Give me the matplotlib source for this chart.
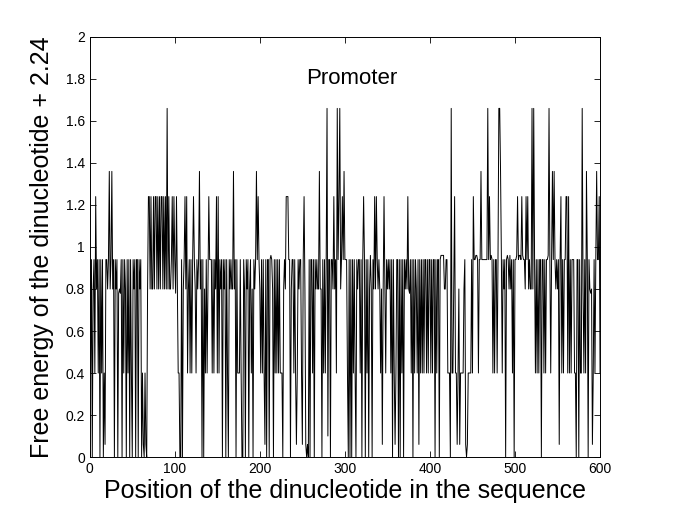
import numpy as np
import matplotlib.pyplot as plt

# free energy (+2.24), position 0..600, in blocks of 50
block1 = [0.94, 0.4, 0.94, 0, 0.8, 0.94, 0.4, 1.24, 0.8, 0.94,
          0.4, 0.94, 0, 0.94, 0.4, 0.94, 0, 0.4, 0.06, 0.94,
          0.94, 0.8, 0.94, 1.36, 0.8, 0.94, 1.36, 0.8, 0.94, 0,
          0.94, 0.8, 0.94, 0, 0.78, 0.8, 0.78, 0.94, 0, 0.94,
          0.4, 0.94, 0.8, 0, 0.94, 0.4, 0.94, 0, 0.94, 0.4]
block2 = [0, 0.94, 0.8, 0.94, 0, 0.94, 0.94, 0, 0.94, 0.8,
          0.94, 0, 0.4, 0.06, 0, 0.4, 0.06, 0, 0.8, 1.24,
          1.24, 0.8, 1.24, 0.8, 0.8, 1.24, 0.8, 1.24, 1.24, 0.8,
          1.24, 0.8, 1.24, 0.8, 1.24, 1.24, 0.8, 1.24, 0.8, 1.24,
          0.8, 1.66, 0.8, 1.24, 0.8, 0.8, 0.94, 1.24, 0.8, 1.24]
block3 = [0.94, 0.78, 1.24, 0.8, 0.4, 0.4, 0, 0, 0.94, 0,
          0.8, 0.94, 1.24, 0.8, 1.24, 0.4, 0.8, 0.94, 0.4, 0.94,
          0.4, 0.94, 1.24, 0.94, 0.8, 0.4, 0.94, 0.8, 0.94, 1.36,
          0.8, 0.94, 0, 0.94, 0, 0.8, 0.4, 0.94, 0.4, 0.8,
          1.24, 0.94, 0.94, 0.94, 0.4, 0.94, 0.4, 0.94, 0.8, 1.24]
block4 = [0.4, 1.24, 0.4, 0.94, 0.8, 0.94, 0, 0.94, 0.8, 0.94,
          0, 0.94, 0.4, 0, 0.94, 0.8, 0.94, 0.8, 0.8, 1.36,
          0.8, 0.94, 0, 0.94, 0.4, 0.4, 0.4, 0.94, 0.4, 0,
          0, 0.94, 0.8, 0, 0.94, 0.8, 0.94, 0, 0.8, 0.94,
          0.4, 0.8, 0, 0.94, 0.8, 0.94, 1.36, 0.94, 1.24, 0.94]
block5 = [0.8, 0.4, 0.94, 0.4, 0.94, 0.4, 0.06, 0.94, 0, 0.94,
          0.94, 0, 0.94, 0.96, 0.94, 0.8, 0, 0.94, 0.4, 0.94,
          0.4, 0.94, 0.4, 0.94, 0.4, 0.4, 0.4, 0, 0.8, 0.94,
          0.8, 1.24, 1.24, 1.24, 0.94, 0.94, 0, 0.8, 0.94, 0.94,
          0.4, 0.94, 0.4, 0.06, 0.4, 0.94, 0.8, 0.94, 0.94, 0.4]
block6 = [0.06, 0.94, 1.24, 0.8, 0.06, 0, 0.06, 0, 0.94, 0,
          0.94, 0.94, 0.4, 0.94, 0, 0.94, 0.8, 0.94, 0.8, 0.8,
          1.36, 0.8, 0.8, 0, 0.94, 0.4, 0.94, 0.4, 0.94, 1.66,
          0.1, 0.94, 0.94, 0, 0.94, 0.94, 0.8, 1.24, 0.8, 0.94,
          0.4, 1.66, 0.94, 1.24, 1.66, 0.8, 0.94, 1.24, 0.94, 1.36]
block7 = [0.94, 0.94, 0.94, 0.4, 0, 0.94, 0, 0.94, 0, 0.94,
          0.4, 0.94, 0.4, 0, 0.94, 0.8, 0.94, 0.94, 0.4, 0.94,
          0, 0.94, 1.24, 0.94, 0, 0.94, 0.4, 0.94, 0, 0.8,
          0.96, 0.8, 0, 0.94, 0.8, 1.24, 0.8, 1.24, 0.94, 0.8,
          0.94, 0.8, 0.4, 0.8, 0.06, 0.8, 1.24, 0.8, 0.4, 0.94]
block8 = [0.8, 0.94, 0.8, 0.94, 0.4, 0.94, 0, 0.94, 0.4, 0.06,
          0.4, 0.94, 0.94, 0, 0.94, 0, 0.94, 0.4, 0.94, 0,
          0.94, 0.8, 0.94, 0.8, 1.24, 0.8, 0.78, 0.94, 0.4, 0.94,
          0, 0.94, 0.4, 0.94, 0.8, 0.4, 0.94, 0.06, 0.94, 0.4,
          0.94, 0.4, 0.94, 0.4, 0.94, 0.94, 0.4, 0.94, 0.4, 0.94]
block9 = [0.94, 0.4, 0.94, 0.4, 0.94, 0.94, 0, 0.94, 0.4, 0.94,
          0.94, 0, 0.94, 0.96, 0.96, 0.96, 0.96, 0.8, 0.8, 0.94,
          0.94, 0.4, 0.4, 0.4, 0, 1.66, 0.4, 0.4, 0.8, 1.24,
          0.4, 0.4, 0.06, 0.4, 0.8, 0.06, 0.4, 0.4, 0.4, 0.4,
          0.8, 0.94, 0.06, 0, 0.06, 0.4, 0.4, 0.4, 0.4, 0.94]
block10 = [0.4, 1.24, 0.94, 0.94, 0.96, 0.96, 0.94, 0.4, 0.94, 0.94,
           1.36, 0.94, 0.94, 0.94, 0.94, 0.94, 0.94, 0.94, 1.66, 0.94,
           1.24, 0.94, 0.96, 0.94, 0.4, 0.94, 0.4, 0.94, 0.94, 0.4,
           0.94, 1.66, 1.66, 1.36, 0.94, 0.4, 0.94, 0.8, 0.94, 0,
           0.94, 0.96, 0.94, 0.8, 0.96, 0.8, 0.94, 0.4, 0.94, 0]
block11 = [0.94, 0.94, 0.96, 1.24, 0.94, 0.96, 0.96, 0.94, 1.24, 0.96,
           0.94, 0.94, 0.8, 1.24, 0.94, 1.24, 0.8, 0.94, 0.8, 0.8,
           1.66, 0.8, 1.66, 0.94, 0.4, 0.94, 0.4, 0.94, 0.4, 0.94,
           0.94, 0, 0.94, 0.94, 0.4, 0.94, 0.4, 0.94, 0.94, 0.96,
           1.66, 0.94, 0.4, 0.94, 1.36, 0.94, 1.36, 0.94, 0.8, 0.94]
block12 = [0.8, 0.94, 0.06, 0.94, 1.24, 0.4, 0.94, 0.4, 0.94, 0.94,
           1.24, 1.24, 0.4, 1.24, 0.4, 0.94, 0.4, 0.94, 0.94, 0.94,
           0.4, 0.4, 0, 0.94, 0.94, 0, 0.94, 0.4, 0.4, 1.66,
           0.8, 0.4, 0.94, 0.4, 1.36, 0.94, 0, 0.94, 0.8, 0.78,
           0.8, 0.06, 0.4, 0.94, 0.4, 0.94, 1.36, 0.94, 0.94, 1.24,
           0.4]

energy = (block1 + block2 + block3 + block4 + block5 + block6 +
          block7 + block8 + block9 + block10 + block11 + block12)
position = np.arange(len(energy))

plt.rcParams['font.family'] = ['Liberation Sans', 'DejaVu Sans']

fig = plt.figure(figsize=(6.85, 5.15), dpi=100)
ax = fig.add_axes([0.131, 0.1126, 0.745, 0.8156])

ax.plot(position, energy, color='black', linewidth=0.7)

ax.set_xlim(0, 600)
ax.set_ylim(0, 2)
ax.set_xticks(np.arange(0, 601, 100))
yt = np.arange(0, 2.01, 0.2)
ax.set_yticks(yt)
ax.set_yticklabels(['0', '0.2', '0.4', '0.6', '0.8', '1', '1.2', '1.4', '1.6', '1.8', '2'])
ax.tick_params(direction='in', top=True, right=True, labelsize=10, length=4, width=0.6)
for s in ax.spines.values():
    s.set_linewidth(0.7)

ax.set_xlabel('Position of the dinucleotide in the sequence', fontsize=18, labelpad=2)
ax.set_ylabel('Free energy of the dinucleotide + 2.24', fontsize=18, labelpad=8)
ax.text(308, 1.8, 'Promoter', fontsize=16, ha='center', va='center')

fig.savefig('out.png', dpi=100)
